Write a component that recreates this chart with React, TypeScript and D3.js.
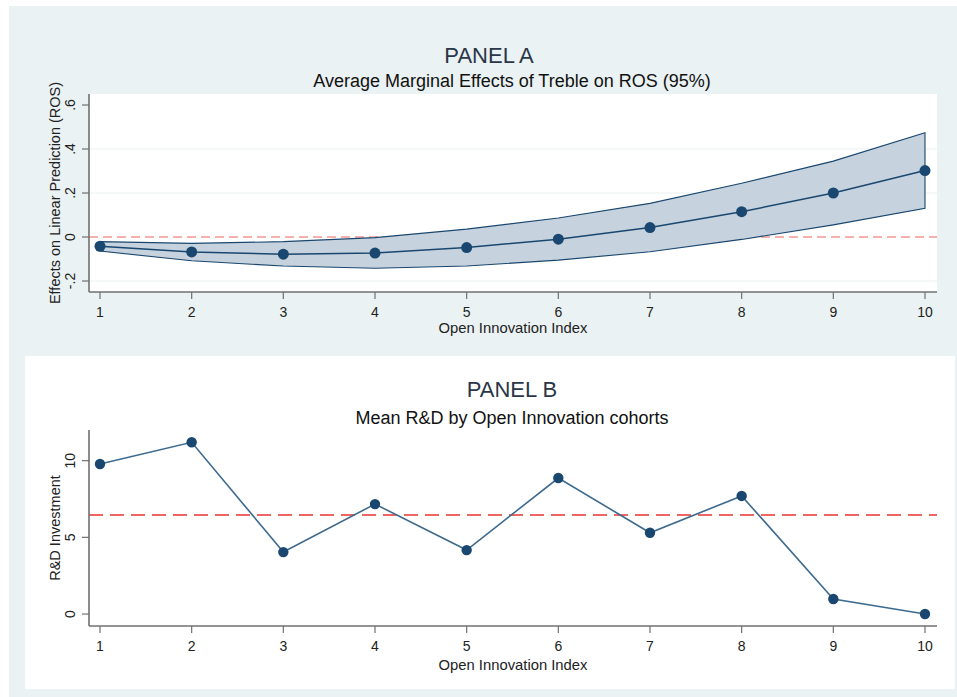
import React from "react";
import * as d3 from "d3";

const xIndex = [1, 2, 3, 4, 5, 6, 7, 8, 9, 10];
const effectA = [-0.042, -0.068, -0.078, -0.073, -0.048, -0.01, 0.043, 0.115, 0.2, 0.302];
const upperA = [-0.021, -0.029, -0.021, -0.003, 0.036, 0.086, 0.153, 0.244, 0.345, 0.474];
const lowerA = [-0.064, -0.108, -0.132, -0.142, -0.132, -0.105, -0.067, -0.011, 0.055, 0.13];
const yTicksA = [-0.2, 0, 0.2, 0.4, 0.6];
const yTickLabelsA = ["-.2", "0", ".2", ".4", ".6"];
const gridA = [-0.2, 0.2, 0.4];
const refA = 0;

const meanRD = [9.78, 11.2, 4.04, 7.17, 4.17, 8.87, 5.3, 7.7, 0.98, 0.0];
const yTicksB = [0, 5, 10];
const refB = 6.46;

const NAVY = "#1a476f";
const LIGHT = "#eaf2f3";
const FONT = "'Liberation Sans', Arial, sans-serif";

export default function App() {
  const x = d3.scaleLinear().domain([0.88, 10.131]).range([89, 937]);
  const yA = d3.scaleLinear().domain([-0.25, 0.65]).range([292, 94]);
  const yB = d3.scaleLinear().domain([-0.78, 12.0]).range([626, 430]);

  const bandA = d3
    .area<number>()
    .x((_, i) => x(xIndex[i]))
    .y0((_, i) => yA(lowerA[i]))
    .y1((d) => yA(d));
  const lineA = d3
    .line<number>()
    .x((_, i) => x(xIndex[i]))
    .y((d) => yA(d));
  const lineB = d3
    .line<number>()
    .x((_, i) => x(xIndex[i]))
    .y((d) => yB(d));

  const xAxis = (yLine: number, titleOffset: number) => (
    <g>
      <line x1={89} x2={937} y1={yLine} y2={yLine} stroke="#707070" strokeWidth={1.6} />
      {xIndex.map((v) => (
        <g key={v}>
          <line x1={x(v)} x2={x(v)} y1={yLine} y2={yLine + 7} stroke="#707070" strokeWidth={1.2} />
          <text x={x(v)} y={yLine + 24.5} textAnchor="middle" fontSize={14} fill="#222">
            {v}
          </text>
        </g>
      ))}
      <text x={513} y={yLine + titleOffset} textAnchor="middle" fontSize={14.8} fill="#222">
        Open Innovation Index
      </text>
    </g>
  );

  const yAxis = (
    scale: d3.ScaleLinear<number, number>,
    ticks: number[],
    labels: string[],
    top: number,
    bottom: number,
    title: string
  ) => (
    <g>
      <line x1={89} x2={89} y1={top} y2={bottom} stroke="#707070" strokeWidth={1.6} />
      {ticks.map((t, i) => (
        <g key={t}>
          <line x1={82} x2={89} y1={scale(t)} y2={scale(t)} stroke="#707070" strokeWidth={1.2} />
          <text
            transform={`translate(75,${scale(t)}) rotate(-90)`}
            textAnchor="middle"
            fontSize={14}
            fill="#222"
          >
            {labels[i]}
          </text>
        </g>
      ))}
      <text
        transform={`translate(60,${(top + bottom) / 2}) rotate(-90)`}
        textAnchor="middle"
        fontSize={14.5}
        fill="#222"
      >
        {title}
      </text>
    </g>
  );

  return (
    <div style={{ position: "absolute", left: 0, top: 0 }}>
      <svg width={957} height={697} style={{ display: "block", fontFamily: FONT }}>
        <rect x={0} y={0} width={957} height={697} fill="#ffffff" />
        <rect x={9} y={6} width={948} height={691} fill={LIGHT} />

        {/* PANEL A */}
        <rect x={89} y={94} width={848} height={198} fill="#ffffff" />
        {gridA.map((g) => (
          <line key={g} x1={89} x2={937} y1={yA(g)} y2={yA(g)} stroke={LIGHT} strokeWidth={1.2} />
        ))}
        <line
          x1={89}
          x2={937}
          y1={yA(refA)}
          y2={yA(refA)}
          stroke="#f39893"
          strokeWidth={1.6}
          strokeDasharray="9,5"
        />
        <path d={bandA(upperA) + "Z"} fill="#c6d2dd" stroke={NAVY} strokeWidth={1.1} />
        <path d={lineA(effectA) || ""} fill="none" stroke={NAVY} strokeWidth={1.5} />
        {effectA.map((v, i) => (
          <circle key={i} cx={x(xIndex[i])} cy={yA(v)} r={5.5} fill={NAVY} />
        ))}
        {yAxis(yA, yTicksA, yTickLabelsA, 94, 292, "Effects on Linear Prediction (ROS)")}
        {xAxis(292, 41)}
        <text x={489} y={63} textAnchor="middle" fontSize={22} fill="#2b3648">
          PANEL A
        </text>
        <text x={512} y={87} textAnchor="middle" fontSize={18} fill="#111">
          Average Marginal Effects of Treble on ROS (95%)
        </text>

        {/* PANEL B */}
        <rect x={25} y={356} width={930} height={333} fill="#ffffff" />
        <line
          x1={89}
          x2={937}
          y1={yB(refB)}
          y2={yB(refB)}
          stroke="#e8352f"
          strokeWidth={1.6}
          strokeDasharray="14,7"
        />
        <path d={lineB(meanRD) || ""} fill="none" stroke="#3d6a8f" strokeWidth={1.6} />
        {meanRD.map((v, i) => (
          <circle key={i} cx={x(xIndex[i])} cy={yB(v)} r={5.2} fill={NAVY} />
        ))}
        {yAxis(yB, yTicksB, yTicksB.map(String), 430, 626, "R&D Investment")}
        {xAxis(626, 44)}
        <text x={512} y={397} textAnchor="middle" fontSize={22} fill="#2b3648">
          PANEL B
        </text>
        <text x={512} y={424} textAnchor="middle" fontSize={18} fill="#111">
          Mean R&amp;D by Open Innovation cohorts
        </text>
      </svg>
    </div>
  );
}
